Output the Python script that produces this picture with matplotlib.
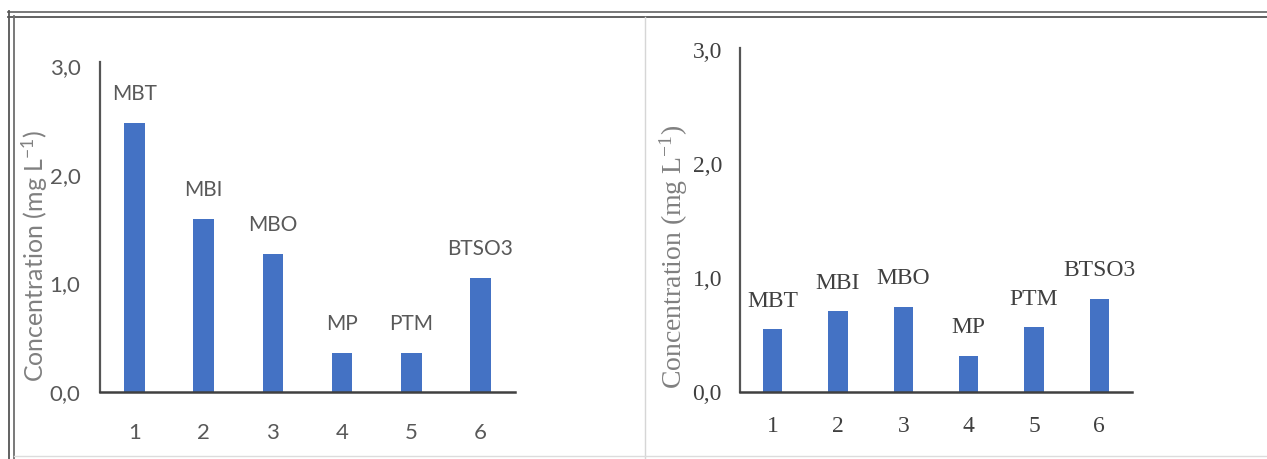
import matplotlib
matplotlib.use("Agg")
import matplotlib.pyplot as plt
from matplotlib.lines import Line2D

# Data
positions = [1, 2, 3, 4, 5, 6]
compounds = ["MBT", "MBI", "MBO", "MP", "PTM", "BTSO3"]
conc_left = [2.48, 1.59, 1.27, 0.36, 0.36, 1.05]
conc_right = [0.55, 0.71, 0.75, 0.32, 0.57, 0.82]
y_ticks = [0.0, 1.0, 2.0, 3.0]
y_tick_labels = ["0,0", "1,0", "2,0", "3,0"]

BAR_COLOR = "#4472C4"
W, H = 1267, 459
plt.rcParams["mathtext.default"] = "regular"

fig = plt.figure(figsize=(W / 100, H / 100), dpi=100)


def px_axes(x0, x1, y_top, y_bottom):
    return fig.add_axes([x0 / W, (H - y_bottom) / H, (x1 - x0) / W, (y_bottom - y_top) / H])


def draw_panel(ax, values, family, text_color, label_size, tick_size,
               label_offset, xpad, ypad):
    ax.bar(positions, values, width=0.3, color=BAR_COLOR, zorder=2)
    ax.set_xlim(0.5, 6.5)
    ax.set_xticks(positions)
    ax.set_xticklabels([str(p) for p in positions], family=family, fontsize=tick_size,
                       color=text_color)
    ax.set_yticks(y_ticks)
    ax.set_yticklabels(y_tick_labels, family=family, fontsize=tick_size, color=text_color)
    ax.tick_params(axis="x", length=0, pad=xpad)
    ax.tick_params(axis="y", length=0, pad=ypad)
    for side in ("top", "right"):
        ax.spines[side].set_visible(False)
    ax.spines["left"].set_color("#555555")
    ax.spines["left"].set_linewidth(1.6)
    ax.spines["bottom"].set_color("#404040")
    ax.spines["bottom"].set_linewidth(1.8)
    for x, v, name in zip(positions, values, compounds):
        ax.annotate(name, (x, v), xytext=(0, label_offset), textcoords="offset points",
                    ha="center", va="center", family=family, fontsize=label_size,
                    color=text_color)
    return ax


# Left panel (sans-serif)
axL = px_axes(100, 515, 62, 392)
draw_panel(axL, conc_left, "Lato", "#595959", 15, 16, 21, 22, 14)
axL.set_ylim(0, 3.04)
fig.text(35 / W, 1 - 256 / H, "Concentration (mg L$^{-1}$)", rotation=90,
         ha="center", va="center", family="Lato", fontsize=18, color="#808080")

# Right panel (serif)
axR = px_axes(740, 1132, 48, 392)
draw_panel(axR, conc_right, "Liberation Serif", "#404040", 17, 17, 20, 17, 13)
axR.set_ylim(0, 3.02)
fig.text(674 / W, 1 - 257 / H, "Concentration (mg L$^{-1}$)", rotation=90,
         ha="center", va="center", family="Liberation Serif", fontsize=20,
         color="#808080")

# Frame lines around and between the panels
def fig_line(xs, ys, color, lw):
    fig.add_artist(Line2D([x / W for x in xs], [1 - y / H for y in ys],
                          color=color, linewidth=lw, transform=fig.transFigure))

fig_line([8, W], [12, 12], "#6e6e6e", 1.3)
fig_line([8, W], [16.5, 16.5], "#555555", 1.3)
fig_line([9, 9], [11, H], "#555555", 1.3)
fig_line([13.5, 13.5], [16, H], "#6e6e6e", 1.3)
fig_line([645, 645], [17, H], "#d6d6d6", 1.0)
fig_line([14, W], [456, 456], "#dcdcdc", 1.0)

fig.savefig("out.png", dpi=100)
